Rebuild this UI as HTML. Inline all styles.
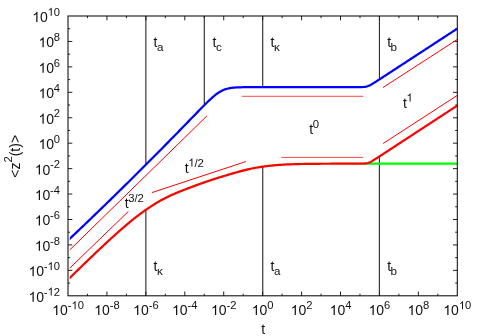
<!DOCTYPE html><html><head><meta charset="utf-8"><title>chart</title><style>html,body{margin:0;padding:0;background:#fff;}body{width:480px;height:336px;overflow:hidden;position:relative;font-family:"Liberation Sans",sans-serif;}</style></head><body><svg width="480" height="336" viewBox="0 0 480 336" style="position:absolute;left:0;top:0;will-change:transform">
<rect width="480" height="336" fill="#fff"/>
<defs><clipPath id="c"><rect x="69.75" y="16.00" width="387.55" height="279.80"/></clipPath></defs>
<g stroke="#303030" stroke-width="1.15" fill="none">
<line x1="145.85" y1="16.00" x2="145.85" y2="164"/>
<line x1="204.3" y1="16.00" x2="204.3" y2="104"/>
<line x1="262.7" y1="16.00" x2="262.7" y2="86.7"/>
<line x1="379.45" y1="16.00" x2="379.45" y2="78.5"/>
<line x1="145.85" y1="209.5" x2="145.85" y2="295.80"/>
<line x1="262.75" y1="166.6" x2="262.75" y2="295.80"/>
<line x1="379.4" y1="155.5" x2="379.4" y2="295.80"/>
</g>
<g stroke="#222" stroke-width="1" fill="none">
<line x1="87.47" y1="295.80" x2="87.47" y2="293.70"/>
<line x1="87.47" y1="16.00" x2="87.47" y2="18.10"/>
<line x1="106.93" y1="295.80" x2="106.93" y2="291.50"/>
<line x1="106.93" y1="16.00" x2="106.93" y2="20.30"/>
<line x1="126.40" y1="295.80" x2="126.40" y2="293.70"/>
<line x1="126.40" y1="16.00" x2="126.40" y2="18.10"/>
<line x1="145.86" y1="295.80" x2="145.86" y2="291.50"/>
<line x1="145.86" y1="16.00" x2="145.86" y2="20.30"/>
<line x1="165.32" y1="295.80" x2="165.32" y2="293.70"/>
<line x1="165.32" y1="16.00" x2="165.32" y2="18.10"/>
<line x1="184.79" y1="295.80" x2="184.79" y2="291.50"/>
<line x1="184.79" y1="16.00" x2="184.79" y2="20.30"/>
<line x1="204.25" y1="295.80" x2="204.25" y2="293.70"/>
<line x1="204.25" y1="16.00" x2="204.25" y2="18.10"/>
<line x1="223.72" y1="295.80" x2="223.72" y2="291.50"/>
<line x1="223.72" y1="16.00" x2="223.72" y2="20.30"/>
<line x1="243.19" y1="295.80" x2="243.19" y2="293.70"/>
<line x1="243.19" y1="16.00" x2="243.19" y2="18.10"/>
<line x1="262.65" y1="295.80" x2="262.65" y2="291.50"/>
<line x1="262.65" y1="16.00" x2="262.65" y2="20.30"/>
<line x1="282.12" y1="295.80" x2="282.12" y2="293.70"/>
<line x1="282.12" y1="16.00" x2="282.12" y2="18.10"/>
<line x1="301.58" y1="295.80" x2="301.58" y2="291.50"/>
<line x1="301.58" y1="16.00" x2="301.58" y2="20.30"/>
<line x1="321.05" y1="295.80" x2="321.05" y2="293.70"/>
<line x1="321.05" y1="16.00" x2="321.05" y2="18.10"/>
<line x1="340.51" y1="295.80" x2="340.51" y2="291.50"/>
<line x1="340.51" y1="16.00" x2="340.51" y2="20.30"/>
<line x1="359.98" y1="295.80" x2="359.98" y2="293.70"/>
<line x1="359.98" y1="16.00" x2="359.98" y2="18.10"/>
<line x1="379.44" y1="295.80" x2="379.44" y2="291.50"/>
<line x1="379.44" y1="16.00" x2="379.44" y2="20.30"/>
<line x1="398.91" y1="295.80" x2="398.91" y2="293.70"/>
<line x1="398.91" y1="16.00" x2="398.91" y2="18.10"/>
<line x1="418.37" y1="295.80" x2="418.37" y2="291.50"/>
<line x1="418.37" y1="16.00" x2="418.37" y2="20.30"/>
<line x1="437.83" y1="295.80" x2="437.83" y2="293.70"/>
<line x1="437.83" y1="16.00" x2="437.83" y2="18.10"/>
<line x1="68.00" y1="283.08" x2="70.10" y2="283.08"/>
<line x1="457.30" y1="283.08" x2="455.20" y2="283.08"/>
<line x1="68.00" y1="270.36" x2="72.30" y2="270.36"/>
<line x1="457.30" y1="270.36" x2="453.00" y2="270.36"/>
<line x1="68.00" y1="257.65" x2="70.10" y2="257.65"/>
<line x1="457.30" y1="257.65" x2="455.20" y2="257.65"/>
<line x1="68.00" y1="244.93" x2="72.30" y2="244.93"/>
<line x1="457.30" y1="244.93" x2="453.00" y2="244.93"/>
<line x1="68.00" y1="232.21" x2="70.10" y2="232.21"/>
<line x1="457.30" y1="232.21" x2="455.20" y2="232.21"/>
<line x1="68.00" y1="219.49" x2="72.30" y2="219.49"/>
<line x1="457.30" y1="219.49" x2="453.00" y2="219.49"/>
<line x1="68.00" y1="206.77" x2="70.10" y2="206.77"/>
<line x1="457.30" y1="206.77" x2="455.20" y2="206.77"/>
<line x1="68.00" y1="194.05" x2="72.30" y2="194.05"/>
<line x1="457.30" y1="194.05" x2="453.00" y2="194.05"/>
<line x1="68.00" y1="181.34" x2="70.10" y2="181.34"/>
<line x1="457.30" y1="181.34" x2="455.20" y2="181.34"/>
<line x1="68.00" y1="168.62" x2="72.30" y2="168.62"/>
<line x1="457.30" y1="168.62" x2="453.00" y2="168.62"/>
<line x1="68.00" y1="155.90" x2="70.10" y2="155.90"/>
<line x1="457.30" y1="155.90" x2="455.20" y2="155.90"/>
<line x1="68.00" y1="143.18" x2="72.30" y2="143.18"/>
<line x1="457.30" y1="143.18" x2="453.00" y2="143.18"/>
<line x1="68.00" y1="130.46" x2="70.10" y2="130.46"/>
<line x1="457.30" y1="130.46" x2="455.20" y2="130.46"/>
<line x1="68.00" y1="117.75" x2="72.30" y2="117.75"/>
<line x1="457.30" y1="117.75" x2="453.00" y2="117.75"/>
<line x1="68.00" y1="105.03" x2="70.10" y2="105.03"/>
<line x1="457.30" y1="105.03" x2="455.20" y2="105.03"/>
<line x1="68.00" y1="92.31" x2="72.30" y2="92.31"/>
<line x1="457.30" y1="92.31" x2="453.00" y2="92.31"/>
<line x1="68.00" y1="79.59" x2="70.10" y2="79.59"/>
<line x1="457.30" y1="79.59" x2="455.20" y2="79.59"/>
<line x1="68.00" y1="66.87" x2="72.30" y2="66.87"/>
<line x1="457.30" y1="66.87" x2="453.00" y2="66.87"/>
<line x1="68.00" y1="54.15" x2="70.10" y2="54.15"/>
<line x1="457.30" y1="54.15" x2="455.20" y2="54.15"/>
<line x1="68.00" y1="41.44" x2="72.30" y2="41.44"/>
<line x1="457.30" y1="41.44" x2="453.00" y2="41.44"/>
<line x1="68.00" y1="28.72" x2="70.10" y2="28.72"/>
<line x1="457.30" y1="28.72" x2="455.20" y2="28.72"/>
</g>
<g stroke="#ff0000" stroke-width="0.75" fill="none" clip-path="url(#c)">
<line x1="68.00" y1="251.60" x2="207.00" y2="115.80" stroke-width="1"/>
<line x1="68.00" y1="269.80" x2="128.40" y2="211.40" stroke-width="1"/>
<line x1="151.90" y1="192.60" x2="245.90" y2="161.55" stroke-width="1"/>
<line x1="242.00" y1="96.30" x2="363.25" y2="96.30" stroke-width="0.72"/>
<line x1="281.25" y1="157.40" x2="363.10" y2="157.40" stroke-width="0.72"/>
<line x1="383.00" y1="87.50" x2="457.10" y2="39.60" stroke-width="1"/>
<line x1="383.10" y1="143.50" x2="457.10" y2="95.50" stroke-width="1"/>
</g>
<g clip-path="url(#c)" fill="none" stroke-linejoin="round">
<path d="M364.00,163.57 L365.00,163.57 L366.00,163.57 L367.00,163.57 L368.00,163.57 L369.00,163.57 L370.00,163.57 L371.00,163.57 L372.00,163.57 L373.00,163.57 L374.00,163.57 L375.00,163.57 L376.00,163.57 L377.00,163.57 L378.00,163.57 L379.00,163.56 L380.00,163.56 L381.00,163.56 L382.00,163.56 L383.00,163.56 L384.00,163.56 L385.00,163.56 L386.00,163.56 L387.00,163.56 L388.00,163.56 L389.00,163.56 L390.00,163.56 L391.00,163.56 L392.00,163.56 L393.00,163.56 L394.00,163.56 L395.00,163.56 L396.00,163.56 L397.00,163.56 L398.00,163.56 L399.00,163.56 L400.00,163.56 L401.00,163.56 L402.00,163.56 L403.00,163.56 L404.00,163.56 L405.00,163.56 L406.00,163.56 L407.00,163.56 L408.00,163.56 L409.00,163.56 L410.00,163.56 L411.00,163.56 L412.00,163.56 L413.00,163.56 L414.00,163.56 L415.00,163.56 L416.00,163.56 L417.00,163.56 L418.00,163.56 L419.00,163.56 L420.00,163.56 L421.00,163.56 L422.00,163.56 L423.00,163.56 L424.00,163.56 L425.00,163.56 L426.00,163.56 L427.00,163.56 L428.00,163.56 L429.00,163.56 L430.00,163.56 L431.00,163.56 L432.00,163.56 L433.00,163.56 L434.00,163.56 L435.00,163.56 L436.00,163.56 L437.00,163.56 L438.00,163.56 L439.00,163.56 L440.00,163.56 L441.00,163.56 L442.00,163.56 L443.00,163.56 L444.00,163.56 L445.00,163.56 L446.00,163.56 L447.00,163.56 L448.00,163.56 L449.00,163.56 L450.00,163.56 L451.00,163.56 L452.00,163.56 L453.00,163.56 L454.00,163.56 L455.00,163.56 L456.00,163.56 L457.00,163.56 L457.30,163.56" stroke="#00ff00" stroke-width="2.2"/>
<path d="M68.00,278.74 L69.00,277.77 L70.00,276.79 L71.00,275.82 L72.00,274.85 L73.00,273.88 L74.00,272.90 L75.00,271.93 L76.00,270.96 L77.00,269.99 L78.00,269.02 L79.00,268.05 L80.00,267.08 L81.00,266.12 L82.00,265.15 L83.00,264.18 L84.00,263.22 L85.00,262.25 L86.00,261.29 L87.00,260.33 L88.00,259.37 L89.00,258.41 L90.00,257.45 L91.00,256.49 L92.00,255.53 L93.00,254.58 L94.00,253.62 L95.00,252.67 L96.00,251.72 L97.00,250.77 L98.00,249.82 L99.00,248.88 L100.00,247.93 L101.00,246.99 L102.00,246.05 L103.00,245.11 L104.00,244.18 L105.00,243.25 L106.00,242.32 L107.00,241.39 L108.00,240.46 L109.00,239.54 L110.00,238.62 L111.00,237.70 L112.00,236.79 L113.00,235.88 L114.00,234.98 L115.00,234.07 L116.00,233.18 L117.00,232.28 L118.00,231.39 L119.00,230.51 L120.00,229.63 L121.00,228.75 L122.00,227.88 L123.00,227.01 L124.00,226.15 L125.00,225.30 L126.00,224.45 L127.00,223.60 L128.00,222.76 L129.00,221.93 L130.00,221.11 L131.00,220.29 L132.00,219.48 L133.00,218.67 L134.00,217.87 L135.00,217.08 L136.00,216.30 L137.00,215.53 L138.00,214.76 L139.00,214.00 L140.00,213.25 L141.00,212.50 L142.00,211.77 L143.00,211.04 L144.00,210.32 L145.00,209.61 L146.00,208.91 L147.00,208.22 L148.00,207.54 L149.00,206.87 L150.00,206.20 L151.00,205.55 L152.00,204.90 L153.00,204.26 L154.00,203.63 L155.00,203.01 L156.00,202.40 L157.00,201.80 L158.00,201.20 L159.00,200.62 L160.00,200.04 L161.00,199.48 L162.00,198.92 L163.00,198.38 L164.00,197.85 L165.00,197.34 L166.00,196.83 L167.00,196.33 L168.00,195.85 L169.00,195.37 L170.00,194.91 L171.00,194.45 L172.00,194.00 L173.00,193.56 L174.00,193.12 L175.00,192.69 L176.00,192.27 L177.00,191.86 L178.00,191.45 L179.00,191.04 L180.00,190.64 L181.00,190.25 L182.00,189.85 L183.00,189.46 L184.00,189.08 L185.00,188.69 L186.00,188.31 L187.00,187.93 L188.00,187.55 L189.00,187.17 L190.00,186.79 L191.00,186.41 L192.00,186.03 L193.00,185.65 L194.00,185.27 L195.00,184.90 L196.00,184.53 L197.00,184.16 L198.00,183.79 L199.00,183.43 L200.00,183.07 L201.00,182.72 L202.00,182.36 L203.00,182.01 L204.00,181.66 L205.00,181.31 L206.00,180.97 L207.00,180.63 L208.00,180.29 L209.00,179.95 L210.00,179.61 L211.00,179.28 L212.00,178.95 L213.00,178.62 L214.00,178.30 L215.00,177.97 L216.00,177.65 L217.00,177.33 L218.00,177.02 L219.00,176.70 L220.00,176.39 L221.00,176.09 L222.00,175.78 L223.00,175.48 L224.00,175.18 L225.00,174.88 L226.00,174.58 L227.00,174.28 L228.00,173.98 L229.00,173.69 L230.00,173.39 L231.00,173.10 L232.00,172.80 L233.00,172.51 L234.00,172.22 L235.00,171.94 L236.00,171.66 L237.00,171.37 L238.00,171.10 L239.00,170.82 L240.00,170.55 L241.00,170.29 L242.00,170.03 L243.00,169.77 L244.00,169.51 L245.00,169.27 L246.00,169.02 L247.00,168.79 L248.00,168.55 L249.00,168.33 L250.00,168.11 L251.00,167.89 L252.00,167.69 L253.00,167.49 L254.00,167.29 L255.00,167.10 L256.00,166.92 L257.00,166.75 L258.00,166.58 L259.00,166.42 L260.00,166.26 L261.00,166.10 L262.00,165.95 L263.00,165.81 L264.00,165.66 L265.00,165.53 L266.00,165.40 L267.00,165.27 L268.00,165.15 L269.00,165.03 L270.00,164.92 L271.00,164.81 L272.00,164.70 L273.00,164.60 L274.00,164.51 L275.00,164.41 L276.00,164.33 L277.00,164.24 L278.00,164.16 L279.00,164.09 L280.00,164.01 L281.00,163.94 L282.00,163.88 L283.00,163.82 L284.00,163.76 L285.00,163.70 L286.00,163.65 L287.00,163.60 L288.00,163.56 L289.00,163.52 L290.00,163.48 L291.00,163.44 L292.00,163.41 L293.00,163.38 L294.00,163.35 L295.00,163.32 L296.00,163.29 L297.00,163.26 L298.00,163.24 L299.00,163.21 L300.00,163.19 L301.00,163.17 L302.00,163.15 L303.00,163.13 L304.00,163.11 L305.00,163.10 L306.00,163.08 L307.00,163.07 L308.00,163.05 L309.00,163.04 L310.00,163.03 L311.00,163.01 L312.00,163.00 L313.00,162.99 L314.00,162.98 L315.00,162.97 L316.00,162.96 L317.00,162.95 L318.00,162.95 L319.00,162.94 L320.00,162.93 L321.00,162.92 L322.00,162.92 L323.00,162.91 L324.00,162.91 L325.00,162.90 L326.00,162.90 L327.00,162.89 L328.00,162.89 L329.00,162.88 L330.00,162.88 L331.00,162.87 L332.00,162.87 L333.00,162.87 L334.00,162.86 L335.00,162.86 L336.00,162.86 L337.00,162.86 L338.00,162.85 L339.00,162.85 L340.00,162.85 L341.00,162.85 L342.00,162.84 L343.00,162.84 L344.00,162.84 L345.00,162.84 L346.00,162.84 L347.00,162.84 L348.00,162.83 L349.00,162.83 L350.00,162.83 L351.00,162.83 L352.00,162.83 L353.00,162.83 L354.00,162.83 L355.00,162.83 L356.00,162.83 L357.00,162.82 L358.00,162.82 L359.00,162.82 L360.00,162.82 L361.00,162.82 L362.00,162.82 L363.00,162.82 L364.00,162.82 L365.00,162.82 L366.00,162.82 L367.00,162.82 L368.00,162.82 L369.00,162.82 L370.00,162.82" stroke="#00ff00" stroke-width="0.9" opacity="0.35"/>
<path d="M68.00,279.59 L69.00,278.62 L70.00,277.64 L71.00,276.67 L72.00,275.70 L73.00,274.73 L74.00,273.75 L75.00,272.78 L76.00,271.81 L77.00,270.84 L78.00,269.87 L79.00,268.90 L80.00,267.93 L81.00,266.97 L82.00,266.00 L83.00,265.03 L84.00,264.07 L85.00,263.10 L86.00,262.14 L87.00,261.18 L88.00,260.22 L89.00,259.26 L90.00,258.30 L91.00,257.34 L92.00,256.38 L93.00,255.43 L94.00,254.47 L95.00,253.52 L96.00,252.57 L97.00,251.62 L98.00,250.67 L99.00,249.73 L100.00,248.78 L101.00,247.84 L102.00,246.90 L103.00,245.96 L104.00,245.03 L105.00,244.10 L106.00,243.17 L107.00,242.24 L108.00,241.31 L109.00,240.39 L110.00,239.47 L111.00,238.55 L112.00,237.64 L113.00,236.73 L114.00,235.83 L115.00,234.92 L116.00,234.03 L117.00,233.13 L118.00,232.24 L119.00,231.36 L120.00,230.48 L121.00,229.60 L122.00,228.73 L123.00,227.86 L124.00,227.00 L125.00,226.15 L126.00,225.30 L127.00,224.45 L128.00,223.61 L129.00,222.78 L130.00,221.96 L131.00,221.14 L132.00,220.33 L133.00,219.52 L134.00,218.72 L135.00,217.93 L136.00,217.15 L137.00,216.38 L138.00,215.61 L139.00,214.85 L140.00,214.10 L141.00,213.35 L142.00,212.62 L143.00,211.89 L144.00,211.17 L145.00,210.46 L146.00,209.76 L147.00,209.07 L148.00,208.39 L149.00,207.72 L150.00,207.05 L151.00,206.40 L152.00,205.75 L153.00,205.11 L154.00,204.48 L155.00,203.86 L156.00,203.25 L157.00,202.65 L158.00,202.05 L159.00,201.47 L160.00,200.89 L161.00,200.33 L162.00,199.77 L163.00,199.23 L164.00,198.70 L165.00,198.19 L166.00,197.68 L167.00,197.18 L168.00,196.70 L169.00,196.22 L170.00,195.76 L171.00,195.30 L172.00,194.85 L173.00,194.41 L174.00,193.97 L175.00,193.54 L176.00,193.12 L177.00,192.71 L178.00,192.30 L179.00,191.89 L180.00,191.49 L181.00,191.10 L182.00,190.70 L183.00,190.31 L184.00,189.93 L185.00,189.54 L186.00,189.16 L187.00,188.78 L188.00,188.40 L189.00,188.02 L190.00,187.64 L191.00,187.26 L192.00,186.88 L193.00,186.50 L194.00,186.12 L195.00,185.75 L196.00,185.38 L197.00,185.01 L198.00,184.64 L199.00,184.28 L200.00,183.92 L201.00,183.57 L202.00,183.21 L203.00,182.86 L204.00,182.51 L205.00,182.16 L206.00,181.82 L207.00,181.48 L208.00,181.14 L209.00,180.80 L210.00,180.46 L211.00,180.13 L212.00,179.80 L213.00,179.47 L214.00,179.15 L215.00,178.82 L216.00,178.50 L217.00,178.18 L218.00,177.87 L219.00,177.55 L220.00,177.24 L221.00,176.94 L222.00,176.63 L223.00,176.33 L224.00,176.03 L225.00,175.73 L226.00,175.43 L227.00,175.13 L228.00,174.83 L229.00,174.54 L230.00,174.24 L231.00,173.95 L232.00,173.65 L233.00,173.36 L234.00,173.07 L235.00,172.79 L236.00,172.51 L237.00,172.22 L238.00,171.95 L239.00,171.67 L240.00,171.40 L241.00,171.14 L242.00,170.88 L243.00,170.62 L244.00,170.36 L245.00,170.12 L246.00,169.87 L247.00,169.64 L248.00,169.40 L249.00,169.18 L250.00,168.96 L251.00,168.74 L252.00,168.54 L253.00,168.34 L254.00,168.14 L255.00,167.95 L256.00,167.77 L257.00,167.60 L258.00,167.43 L259.00,167.27 L260.00,167.11 L261.00,166.95 L262.00,166.80 L263.00,166.66 L264.00,166.51 L265.00,166.38 L266.00,166.25 L267.00,166.12 L268.00,166.00 L269.00,165.88 L270.00,165.77 L271.00,165.66 L272.00,165.55 L273.00,165.45 L274.00,165.36 L275.00,165.26 L276.00,165.18 L277.00,165.09 L278.00,165.01 L279.00,164.94 L280.00,164.86 L281.00,164.79 L282.00,164.73 L283.00,164.67 L284.00,164.61 L285.00,164.55 L286.00,164.50 L287.00,164.45 L288.00,164.41 L289.00,164.37 L290.00,164.33 L291.00,164.29 L292.00,164.26 L293.00,164.23 L294.00,164.20 L295.00,164.17 L296.00,164.14 L297.00,164.11 L298.00,164.09 L299.00,164.06 L300.00,164.04 L301.00,164.02 L302.00,164.00 L303.00,163.98 L304.00,163.96 L305.00,163.95 L306.00,163.93 L307.00,163.92 L308.00,163.90 L309.00,163.89 L310.00,163.88 L311.00,163.86 L312.00,163.85 L313.00,163.84 L314.00,163.83 L315.00,163.82 L316.00,163.81 L317.00,163.80 L318.00,163.80 L319.00,163.79 L320.00,163.78 L321.00,163.77 L322.00,163.77 L323.00,163.76 L324.00,163.76 L325.00,163.75 L326.00,163.75 L327.00,163.74 L328.00,163.74 L329.00,163.73 L330.00,163.73 L331.00,163.72 L332.00,163.72 L333.00,163.72 L334.00,163.71 L335.00,163.71 L336.00,163.71 L337.00,163.71 L338.00,163.70 L339.00,163.70 L340.00,163.70 L341.00,163.70 L342.00,163.69 L343.00,163.69 L344.00,163.69 L345.00,163.69 L346.00,163.69 L347.00,163.69 L348.00,163.68 L349.00,163.68 L350.00,163.68 L351.00,163.68 L352.00,163.68 L353.00,163.68 L354.00,163.68 L355.00,163.68 L356.00,163.67 L357.00,163.67 L358.00,163.67 L359.00,163.67 L360.00,163.66 L361.00,163.66 L362.00,163.65 L363.00,163.62 L364.00,163.59 L365.00,163.52 L366.00,163.42 L367.00,163.25 L368.00,163.00 L369.00,162.66 L370.00,162.23 L371.00,161.72 L372.00,161.15 L373.00,160.55 L374.00,159.93 L375.00,159.29 L376.00,158.65 L377.00,158.00 L378.00,157.35 L379.00,156.70 L380.00,156.05 L381.00,155.39 L382.00,154.74 L383.00,154.09 L384.00,153.43 L385.00,152.78 L386.00,152.13 L387.00,151.48 L388.00,150.82 L389.00,150.17 L390.00,149.52 L391.00,148.86 L392.00,148.21 L393.00,147.56 L394.00,146.90 L395.00,146.25 L396.00,145.60 L397.00,144.95 L398.00,144.29 L399.00,143.64 L400.00,142.99 L401.00,142.33 L402.00,141.68 L403.00,141.03 L404.00,140.37 L405.00,139.72 L406.00,139.07 L407.00,138.42 L408.00,137.76 L409.00,137.11 L410.00,136.46 L411.00,135.80 L412.00,135.15 L413.00,134.50 L414.00,133.84 L415.00,133.19 L416.00,132.54 L417.00,131.89 L418.00,131.23 L419.00,130.58 L420.00,129.93 L421.00,129.27 L422.00,128.62 L423.00,127.97 L424.00,127.31 L425.00,126.66 L426.00,126.01 L427.00,125.36 L428.00,124.70 L429.00,124.05 L430.00,123.40 L431.00,122.74 L432.00,122.09 L433.00,121.44 L434.00,120.78 L435.00,120.13 L436.00,119.48 L437.00,118.83 L438.00,118.17 L439.00,117.52 L440.00,116.87 L441.00,116.21 L442.00,115.56 L443.00,114.91 L444.00,114.25 L445.00,113.60 L446.00,112.95 L447.00,112.30 L448.00,111.64 L449.00,110.99 L450.00,110.34 L451.00,109.68 L452.00,109.03 L453.00,108.38 L454.00,107.72 L455.00,107.07 L456.00,106.42 L457.00,105.77 L457.30,105.57" stroke="#ff0000" stroke-width="2.2"/>
<path d="M68.00,240.38 L69.00,239.44 L70.00,238.49 L71.00,237.55 L72.00,236.60 L73.00,235.66 L74.00,234.71 L75.00,233.76 L76.00,232.81 L77.00,231.86 L78.00,230.91 L79.00,229.96 L80.00,229.01 L81.00,228.05 L82.00,227.10 L83.00,226.15 L84.00,225.19 L85.00,224.23 L86.00,223.28 L87.00,222.32 L88.00,221.36 L89.00,220.40 L90.00,219.45 L91.00,218.49 L92.00,217.52 L93.00,216.56 L94.00,215.60 L95.00,214.64 L96.00,213.67 L97.00,212.71 L98.00,211.74 L99.00,210.78 L100.00,209.81 L101.00,208.84 L102.00,207.88 L103.00,206.91 L104.00,205.94 L105.00,204.97 L106.00,204.00 L107.00,203.02 L108.00,202.05 L109.00,201.08 L110.00,200.10 L111.00,199.13 L112.00,198.15 L113.00,197.18 L114.00,196.20 L115.00,195.22 L116.00,194.25 L117.00,193.27 L118.00,192.29 L119.00,191.31 L120.00,190.32 L121.00,189.34 L122.00,188.36 L123.00,187.38 L124.00,186.39 L125.00,185.41 L126.00,184.42 L127.00,183.44 L128.00,182.45 L129.00,181.46 L130.00,180.47 L131.00,179.48 L132.00,178.49 L133.00,177.50 L134.00,176.51 L135.00,175.52 L136.00,174.52 L137.00,173.53 L138.00,172.54 L139.00,171.54 L140.00,170.55 L141.00,169.55 L142.00,168.55 L143.00,167.55 L144.00,166.56 L145.00,165.56 L146.00,164.56 L147.00,163.55 L148.00,162.55 L149.00,161.55 L150.00,160.55 L151.00,159.54 L152.00,158.54 L153.00,157.53 L154.00,156.53 L155.00,155.52 L156.00,154.51 L157.00,153.50 L158.00,152.50 L159.00,151.49 L160.00,150.48 L161.00,149.46 L162.00,148.45 L163.00,147.44 L164.00,146.43 L165.00,145.41 L166.00,144.40 L167.00,143.38 L168.00,142.37 L169.00,141.35 L170.00,140.33 L171.00,139.31 L172.00,138.29 L173.00,137.27 L174.00,136.25 L175.00,135.23 L176.00,134.21 L177.00,133.19 L178.00,132.16 L179.00,131.14 L180.00,130.12 L181.00,129.09 L182.00,128.06 L183.00,127.04 L184.00,126.01 L185.00,124.98 L186.00,123.95 L187.00,122.93 L188.00,121.90 L189.00,120.87 L190.00,119.84 L191.00,118.81 L192.00,117.78 L193.00,116.75 L194.00,115.72 L195.00,114.69 L196.00,113.66 L197.00,112.63 L198.00,111.61 L199.00,110.58 L200.00,109.56 L201.00,108.54 L202.00,107.52 L203.00,106.51 L204.00,105.50 L205.00,104.50 L206.00,103.51 L207.00,102.52 L208.00,101.55 L209.00,100.59 L210.00,99.64 L211.00,98.71 L212.00,97.81 L213.00,96.93 L214.00,96.07 L215.00,95.25 L216.00,94.46 L217.00,93.71 L218.00,93.00 L219.00,92.34 L220.00,91.72 L221.00,91.16 L222.00,90.64 L223.00,90.17 L224.00,89.75 L225.00,89.38 L226.00,89.05 L227.00,88.76 L228.00,88.52 L229.00,88.30 L230.00,88.12 L231.00,87.96 L232.00,87.83 L233.00,87.72 L234.00,87.62 L235.00,87.54 L236.00,87.48 L237.00,87.42 L238.00,87.37 L239.00,87.34 L240.00,87.30 L241.00,87.28 L242.00,87.25 L243.00,87.24 L244.00,87.22 L245.00,87.21 L246.00,87.20 L247.00,87.19 L248.00,87.18 L249.00,87.18 L250.00,87.17 L251.00,87.17 L252.00,87.17 L253.00,87.16 L254.00,87.16 L255.00,87.16 L256.00,87.16 L257.00,87.16 L258.00,87.15 L259.00,87.15 L260.00,87.15 L261.00,87.15 L262.00,87.15 L263.00,87.15 L264.00,87.15 L265.00,87.15 L266.00,87.15 L267.00,87.15 L268.00,87.15 L269.00,87.15 L270.00,87.15 L271.00,87.15 L272.00,87.15 L273.00,87.15 L274.00,87.15 L275.00,87.15 L276.00,87.15 L277.00,87.15 L278.00,87.15 L279.00,87.15 L280.00,87.15 L281.00,87.15 L282.00,87.15 L283.00,87.15 L284.00,87.15 L285.00,87.15 L286.00,87.15 L287.00,87.15 L288.00,87.15 L289.00,87.15 L290.00,87.15 L291.00,87.15 L292.00,87.15 L293.00,87.15 L294.00,87.15 L295.00,87.15 L296.00,87.15 L297.00,87.15 L298.00,87.15 L299.00,87.15 L300.00,87.15 L301.00,87.15 L302.00,87.15 L303.00,87.15 L304.00,87.15 L305.00,87.15 L306.00,87.15 L307.00,87.15 L308.00,87.15 L309.00,87.15 L310.00,87.15 L311.00,87.15 L312.00,87.15 L313.00,87.15 L314.00,87.15 L315.00,87.15 L316.00,87.15 L317.00,87.15 L318.00,87.15 L319.00,87.15 L320.00,87.15 L321.00,87.15 L322.00,87.15 L323.00,87.15 L324.00,87.15 L325.00,87.15 L326.00,87.15 L327.00,87.15 L328.00,87.15 L329.00,87.15 L330.00,87.15 L331.00,87.15 L332.00,87.15 L333.00,87.15 L334.00,87.15 L335.00,87.15 L336.00,87.15 L337.00,87.15 L338.00,87.15 L339.00,87.15 L340.00,87.15 L341.00,87.15 L342.00,87.15 L343.00,87.15 L344.00,87.15 L345.00,87.15 L346.00,87.15 L347.00,87.15 L348.00,87.15 L349.00,87.15 L350.00,87.15 L351.00,87.15 L352.00,87.15 L353.00,87.15 L354.00,87.15 L355.00,87.15 L356.00,87.14 L357.00,87.14 L358.00,87.13 L359.00,87.13 L360.00,87.11 L361.00,87.09 L362.00,87.05 L363.00,87.00 L364.00,86.91 L365.00,86.78 L366.00,86.60 L367.00,86.35 L368.00,86.03 L369.00,85.63 L370.00,85.16 L371.00,84.64 L372.00,84.08 L373.00,83.48 L374.00,82.87 L375.00,82.24 L376.00,81.60 L377.00,80.96 L378.00,80.31 L379.00,79.67 L380.00,79.02 L381.00,78.36 L382.00,77.71 L383.00,77.06 L384.00,76.41 L385.00,75.76 L386.00,75.11 L387.00,74.46 L388.00,73.80 L389.00,73.15 L390.00,72.50 L391.00,71.85 L392.00,71.20 L393.00,70.54 L394.00,69.89 L395.00,69.24 L396.00,68.59 L397.00,67.94 L398.00,67.28 L399.00,66.63 L400.00,65.98 L401.00,65.33 L402.00,64.68 L403.00,64.02 L404.00,63.37 L405.00,62.72 L406.00,62.07 L407.00,61.42 L408.00,60.76 L409.00,60.11 L410.00,59.46 L411.00,58.81 L412.00,58.16 L413.00,57.50 L414.00,56.85 L415.00,56.20 L416.00,55.55 L417.00,54.90 L418.00,54.24 L419.00,53.59 L420.00,52.94 L421.00,52.29 L422.00,51.64 L423.00,50.98 L424.00,50.33 L425.00,49.68 L426.00,49.03 L427.00,48.38 L428.00,47.72 L429.00,47.07 L430.00,46.42 L431.00,45.77 L432.00,45.12 L433.00,44.46 L434.00,43.81 L435.00,43.16 L436.00,42.51 L437.00,41.86 L438.00,41.20 L439.00,40.55 L440.00,39.90 L441.00,39.25 L442.00,38.60 L443.00,37.94 L444.00,37.29 L445.00,36.64 L446.00,35.99 L447.00,35.34 L448.00,34.68 L449.00,34.03 L450.00,33.38 L451.00,32.73 L452.00,32.08 L453.00,31.42 L454.00,30.77 L455.00,30.12 L456.00,29.47 L457.00,28.82 L457.30,28.62" stroke="#0000ff" stroke-width="2.25"/>
</g>
<g stroke="#0a0a0a" stroke-width="1.05" fill="none">
<rect x="68.00" y="16.00" width="389.30" height="279.80"/>
</g>
<g font-family="Liberation Sans, sans-serif" font-size="14" fill="#111">
<path transform="translate(52.12,315.00) scale(14)" d="M0.3726,0 L0.2847,0 L0.2847,-0.5601 Q0.2529,-0.5298 0.2014,-0.4995 Q0.1499,-0.4692 0.1089,-0.4541 L0.1089,-0.5391 Q0.1826,-0.5737 0.2378,-0.623 Q0.293,-0.6724 0.3159,-0.7188 L0.3726,-0.7188 Z"/><text x="59.91" y="315.00" font-size="14">0</text><text x="67.69" y="309.20" font-size="11.2">-</text><path transform="translate(71.42,309.20) scale(11.2)" d="M0.3726,0 L0.2847,0 L0.2847,-0.5601 Q0.2529,-0.5298 0.2014,-0.4995 Q0.1499,-0.4692 0.1089,-0.4541 L0.1089,-0.5391 Q0.1826,-0.5737 0.2378,-0.623 Q0.293,-0.6724 0.3159,-0.7188 L0.3726,-0.7188 Z"/><text x="77.65" y="309.20" font-size="11.2">0</text>
<path transform="translate(94.16,315.00) scale(14)" d="M0.3726,0 L0.2847,0 L0.2847,-0.5601 Q0.2529,-0.5298 0.2014,-0.4995 Q0.1499,-0.4692 0.1089,-0.4541 L0.1089,-0.5391 Q0.1826,-0.5737 0.2378,-0.623 Q0.293,-0.6724 0.3159,-0.7188 L0.3726,-0.7188 Z"/><text x="101.95" y="315.00" font-size="14">0</text><text x="109.74" y="309.20" font-size="11.2">-8</text>
<path transform="translate(133.09,315.00) scale(14)" d="M0.3726,0 L0.2847,0 L0.2847,-0.5601 Q0.2529,-0.5298 0.2014,-0.4995 Q0.1499,-0.4692 0.1089,-0.4541 L0.1089,-0.5391 Q0.1826,-0.5737 0.2378,-0.623 Q0.293,-0.6724 0.3159,-0.7188 L0.3726,-0.7188 Z"/><text x="140.88" y="315.00" font-size="14">0</text><text x="148.67" y="309.20" font-size="11.2">-6</text>
<path transform="translate(172.02,315.00) scale(14)" d="M0.3726,0 L0.2847,0 L0.2847,-0.5601 Q0.2529,-0.5298 0.2014,-0.4995 Q0.1499,-0.4692 0.1089,-0.4541 L0.1089,-0.5391 Q0.1826,-0.5737 0.2378,-0.623 Q0.293,-0.6724 0.3159,-0.7188 L0.3726,-0.7188 Z"/><text x="179.81" y="315.00" font-size="14">0</text><text x="187.60" y="309.20" font-size="11.2">-4</text>
<path transform="translate(210.95,315.00) scale(14)" d="M0.3726,0 L0.2847,0 L0.2847,-0.5601 Q0.2529,-0.5298 0.2014,-0.4995 Q0.1499,-0.4692 0.1089,-0.4541 L0.1089,-0.5391 Q0.1826,-0.5737 0.2378,-0.623 Q0.293,-0.6724 0.3159,-0.7188 L0.3726,-0.7188 Z"/><text x="218.74" y="315.00" font-size="14">0</text><text x="226.53" y="309.20" font-size="11.2">-2</text>
<path transform="translate(251.75,315.00) scale(14)" d="M0.3726,0 L0.2847,0 L0.2847,-0.5601 Q0.2529,-0.5298 0.2014,-0.4995 Q0.1499,-0.4692 0.1089,-0.4541 L0.1089,-0.5391 Q0.1826,-0.5737 0.2378,-0.623 Q0.293,-0.6724 0.3159,-0.7188 L0.3726,-0.7188 Z"/><text x="259.54" y="315.00" font-size="14">0</text><text x="267.32" y="309.20" font-size="11.2">0</text>
<path transform="translate(290.68,315.00) scale(14)" d="M0.3726,0 L0.2847,0 L0.2847,-0.5601 Q0.2529,-0.5298 0.2014,-0.4995 Q0.1499,-0.4692 0.1089,-0.4541 L0.1089,-0.5391 Q0.1826,-0.5737 0.2378,-0.623 Q0.293,-0.6724 0.3159,-0.7188 L0.3726,-0.7188 Z"/><text x="298.47" y="315.00" font-size="14">0</text><text x="306.25" y="309.20" font-size="11.2">2</text>
<path transform="translate(329.61,315.00) scale(14)" d="M0.3726,0 L0.2847,0 L0.2847,-0.5601 Q0.2529,-0.5298 0.2014,-0.4995 Q0.1499,-0.4692 0.1089,-0.4541 L0.1089,-0.5391 Q0.1826,-0.5737 0.2378,-0.623 Q0.293,-0.6724 0.3159,-0.7188 L0.3726,-0.7188 Z"/><text x="337.40" y="315.00" font-size="14">0</text><text x="345.18" y="309.20" font-size="11.2">4</text>
<path transform="translate(368.54,315.00) scale(14)" d="M0.3726,0 L0.2847,0 L0.2847,-0.5601 Q0.2529,-0.5298 0.2014,-0.4995 Q0.1499,-0.4692 0.1089,-0.4541 L0.1089,-0.5391 Q0.1826,-0.5737 0.2378,-0.623 Q0.293,-0.6724 0.3159,-0.7188 L0.3726,-0.7188 Z"/><text x="376.33" y="315.00" font-size="14">0</text><text x="384.11" y="309.20" font-size="11.2">6</text>
<path transform="translate(407.47,315.00) scale(14)" d="M0.3726,0 L0.2847,0 L0.2847,-0.5601 Q0.2529,-0.5298 0.2014,-0.4995 Q0.1499,-0.4692 0.1089,-0.4541 L0.1089,-0.5391 Q0.1826,-0.5737 0.2378,-0.623 Q0.293,-0.6724 0.3159,-0.7188 L0.3726,-0.7188 Z"/><text x="415.26" y="315.00" font-size="14">0</text><text x="423.04" y="309.20" font-size="11.2">8</text>
<path transform="translate(443.28,315.00) scale(14)" d="M0.3726,0 L0.2847,0 L0.2847,-0.5601 Q0.2529,-0.5298 0.2014,-0.4995 Q0.1499,-0.4692 0.1089,-0.4541 L0.1089,-0.5391 Q0.1826,-0.5737 0.2378,-0.623 Q0.293,-0.6724 0.3159,-0.7188 L0.3726,-0.7188 Z"/><text x="451.07" y="315.00" font-size="14">0</text><path transform="translate(458.86,309.20) scale(11.2)" d="M0.3726,0 L0.2847,0 L0.2847,-0.5601 Q0.2529,-0.5298 0.2014,-0.4995 Q0.1499,-0.4692 0.1089,-0.4541 L0.1089,-0.5391 Q0.1826,-0.5737 0.2378,-0.623 Q0.293,-0.6724 0.3159,-0.7188 L0.3726,-0.7188 Z"/><text x="465.09" y="309.20" font-size="11.2">0</text>
<path transform="translate(28.54,301.70) scale(14)" d="M0.3726,0 L0.2847,0 L0.2847,-0.5601 Q0.2529,-0.5298 0.2014,-0.4995 Q0.1499,-0.4692 0.1089,-0.4541 L0.1089,-0.5391 Q0.1826,-0.5737 0.2378,-0.623 Q0.293,-0.6724 0.3159,-0.7188 L0.3726,-0.7188 Z"/><text x="36.32" y="301.70" font-size="14">0</text><text x="43.81" y="295.50" font-size="11.2">-</text><path transform="translate(47.54,295.50) scale(11.2)" d="M0.3726,0 L0.2847,0 L0.2847,-0.5601 Q0.2529,-0.5298 0.2014,-0.4995 Q0.1499,-0.4692 0.1089,-0.4541 L0.1089,-0.5391 Q0.1826,-0.5737 0.2378,-0.623 Q0.293,-0.6724 0.3159,-0.7188 L0.3726,-0.7188 Z"/><text x="53.77" y="295.50" font-size="11.2">2</text>
<path transform="translate(28.54,276.26) scale(14)" d="M0.3726,0 L0.2847,0 L0.2847,-0.5601 Q0.2529,-0.5298 0.2014,-0.4995 Q0.1499,-0.4692 0.1089,-0.4541 L0.1089,-0.5391 Q0.1826,-0.5737 0.2378,-0.623 Q0.293,-0.6724 0.3159,-0.7188 L0.3726,-0.7188 Z"/><text x="36.32" y="276.26" font-size="14">0</text><text x="43.81" y="270.06" font-size="11.2">-</text><path transform="translate(47.54,270.06) scale(11.2)" d="M0.3726,0 L0.2847,0 L0.2847,-0.5601 Q0.2529,-0.5298 0.2014,-0.4995 Q0.1499,-0.4692 0.1089,-0.4541 L0.1089,-0.5391 Q0.1826,-0.5737 0.2378,-0.623 Q0.293,-0.6724 0.3159,-0.7188 L0.3726,-0.7188 Z"/><text x="53.77" y="270.06" font-size="11.2">0</text>
<path transform="translate(34.77,250.83) scale(14)" d="M0.3726,0 L0.2847,0 L0.2847,-0.5601 Q0.2529,-0.5298 0.2014,-0.4995 Q0.1499,-0.4692 0.1089,-0.4541 L0.1089,-0.5391 Q0.1826,-0.5737 0.2378,-0.623 Q0.293,-0.6724 0.3159,-0.7188 L0.3726,-0.7188 Z"/><text x="42.55" y="250.83" font-size="14">0</text><text x="50.04" y="244.63" font-size="11.2">-8</text>
<path transform="translate(34.77,225.39) scale(14)" d="M0.3726,0 L0.2847,0 L0.2847,-0.5601 Q0.2529,-0.5298 0.2014,-0.4995 Q0.1499,-0.4692 0.1089,-0.4541 L0.1089,-0.5391 Q0.1826,-0.5737 0.2378,-0.623 Q0.293,-0.6724 0.3159,-0.7188 L0.3726,-0.7188 Z"/><text x="42.55" y="225.39" font-size="14">0</text><text x="50.04" y="219.19" font-size="11.2">-6</text>
<path transform="translate(34.77,199.95) scale(14)" d="M0.3726,0 L0.2847,0 L0.2847,-0.5601 Q0.2529,-0.5298 0.2014,-0.4995 Q0.1499,-0.4692 0.1089,-0.4541 L0.1089,-0.5391 Q0.1826,-0.5737 0.2378,-0.623 Q0.293,-0.6724 0.3159,-0.7188 L0.3726,-0.7188 Z"/><text x="42.55" y="199.95" font-size="14">0</text><text x="50.04" y="193.75" font-size="11.2">-4</text>
<path transform="translate(34.77,174.52) scale(14)" d="M0.3726,0 L0.2847,0 L0.2847,-0.5601 Q0.2529,-0.5298 0.2014,-0.4995 Q0.1499,-0.4692 0.1089,-0.4541 L0.1089,-0.5391 Q0.1826,-0.5737 0.2378,-0.623 Q0.293,-0.6724 0.3159,-0.7188 L0.3726,-0.7188 Z"/><text x="42.55" y="174.52" font-size="14">0</text><text x="50.04" y="168.32" font-size="11.2">-2</text>
<path transform="translate(38.50,149.08) scale(14)" d="M0.3726,0 L0.2847,0 L0.2847,-0.5601 Q0.2529,-0.5298 0.2014,-0.4995 Q0.1499,-0.4692 0.1089,-0.4541 L0.1089,-0.5391 Q0.1826,-0.5737 0.2378,-0.623 Q0.293,-0.6724 0.3159,-0.7188 L0.3726,-0.7188 Z"/><text x="46.28" y="149.08" font-size="14">0</text><text x="53.77" y="142.88" font-size="11.2">0</text>
<path transform="translate(38.50,123.65) scale(14)" d="M0.3726,0 L0.2847,0 L0.2847,-0.5601 Q0.2529,-0.5298 0.2014,-0.4995 Q0.1499,-0.4692 0.1089,-0.4541 L0.1089,-0.5391 Q0.1826,-0.5737 0.2378,-0.623 Q0.293,-0.6724 0.3159,-0.7188 L0.3726,-0.7188 Z"/><text x="46.28" y="123.65" font-size="14">0</text><text x="53.77" y="117.45" font-size="11.2">2</text>
<path transform="translate(38.50,98.21) scale(14)" d="M0.3726,0 L0.2847,0 L0.2847,-0.5601 Q0.2529,-0.5298 0.2014,-0.4995 Q0.1499,-0.4692 0.1089,-0.4541 L0.1089,-0.5391 Q0.1826,-0.5737 0.2378,-0.623 Q0.293,-0.6724 0.3159,-0.7188 L0.3726,-0.7188 Z"/><text x="46.28" y="98.21" font-size="14">0</text><text x="53.77" y="92.01" font-size="11.2">4</text>
<path transform="translate(38.50,72.77) scale(14)" d="M0.3726,0 L0.2847,0 L0.2847,-0.5601 Q0.2529,-0.5298 0.2014,-0.4995 Q0.1499,-0.4692 0.1089,-0.4541 L0.1089,-0.5391 Q0.1826,-0.5737 0.2378,-0.623 Q0.293,-0.6724 0.3159,-0.7188 L0.3726,-0.7188 Z"/><text x="46.28" y="72.77" font-size="14">0</text><text x="53.77" y="66.57" font-size="11.2">6</text>
<path transform="translate(38.50,47.34) scale(14)" d="M0.3726,0 L0.2847,0 L0.2847,-0.5601 Q0.2529,-0.5298 0.2014,-0.4995 Q0.1499,-0.4692 0.1089,-0.4541 L0.1089,-0.5391 Q0.1826,-0.5737 0.2378,-0.623 Q0.293,-0.6724 0.3159,-0.7188 L0.3726,-0.7188 Z"/><text x="46.28" y="47.34" font-size="14">0</text><text x="53.77" y="41.14" font-size="11.2">8</text>
<path transform="translate(32.27,21.90) scale(14)" d="M0.3726,0 L0.2847,0 L0.2847,-0.5601 Q0.2529,-0.5298 0.2014,-0.4995 Q0.1499,-0.4692 0.1089,-0.4541 L0.1089,-0.5391 Q0.1826,-0.5737 0.2378,-0.623 Q0.293,-0.6724 0.3159,-0.7188 L0.3726,-0.7188 Z"/><text x="40.05" y="21.90" font-size="14">0</text><path transform="translate(47.54,15.70) scale(11.2)" d="M0.3726,0 L0.2847,0 L0.2847,-0.5601 Q0.2529,-0.5298 0.2014,-0.4995 Q0.1499,-0.4692 0.1089,-0.4541 L0.1089,-0.5391 Q0.1826,-0.5737 0.2378,-0.623 Q0.293,-0.6724 0.3159,-0.7188 L0.3726,-0.7188 Z"/><text x="53.77" y="15.70" font-size="11.2">0</text>
<text x="261.26" y="334.20" font-size="14">t</text>
<g transform="translate(20,177.7) rotate(-90)"><text x="0.00" y="0.00" font-size="14">&lt;z</text><text x="15.18" y="-8.00" font-size="11.2">2</text><text x="21.41" y="0.00" font-size="14">(t)&gt;</text></g>
<text x="153.60" y="47.30" font-size="14">t</text><text x="156.89" y="51.20" font-size="11.6">a</text>
<text x="212.60" y="47.30" font-size="14">t</text><text x="215.89" y="51.20" font-size="11.6">c</text>
<text x="270.60" y="47.30" font-size="14">t</text><text x="273.89" y="51.20" font-size="11.6">κ</text>
<text x="387.30" y="47.30" font-size="14">t</text><text x="390.59" y="51.20" font-size="11.6">b</text>
<text x="153.60" y="270.90" font-size="14">t</text><text x="156.89" y="274.80" font-size="11.6">κ</text>
<text x="270.60" y="270.90" font-size="14">t</text><text x="273.89" y="274.80" font-size="11.6">a</text>
<text x="387.30" y="270.90" font-size="14">t</text><text x="390.59" y="274.80" font-size="11.6">b</text>
<text x="124.80" y="207.80" font-size="14">t</text><text x="128.19" y="201.80" font-size="11.3">3/2</text>
<text x="184.80" y="172.50" font-size="14">t</text><path transform="translate(188.19,166.50) scale(11.3)" d="M0.3726,0 L0.2847,0 L0.2847,-0.5601 Q0.2529,-0.5298 0.2014,-0.4995 Q0.1499,-0.4692 0.1089,-0.4541 L0.1089,-0.5391 Q0.1826,-0.5737 0.2378,-0.623 Q0.293,-0.6724 0.3159,-0.7188 L0.3726,-0.7188 Z"/><text x="194.47" y="166.50" font-size="11.3">/2</text>
<text x="309.30" y="133.70" font-size="14">t</text><text x="312.69" y="127.70" font-size="11.3">0</text>
<text x="403.00" y="107.50" font-size="14">t</text><path transform="translate(406.39,101.50) scale(11.3)" d="M0.3726,0 L0.2847,0 L0.2847,-0.5601 Q0.2529,-0.5298 0.2014,-0.4995 Q0.1499,-0.4692 0.1089,-0.4541 L0.1089,-0.5391 Q0.1826,-0.5737 0.2378,-0.623 Q0.293,-0.6724 0.3159,-0.7188 L0.3726,-0.7188 Z"/>
</g>
</svg></body></html>
